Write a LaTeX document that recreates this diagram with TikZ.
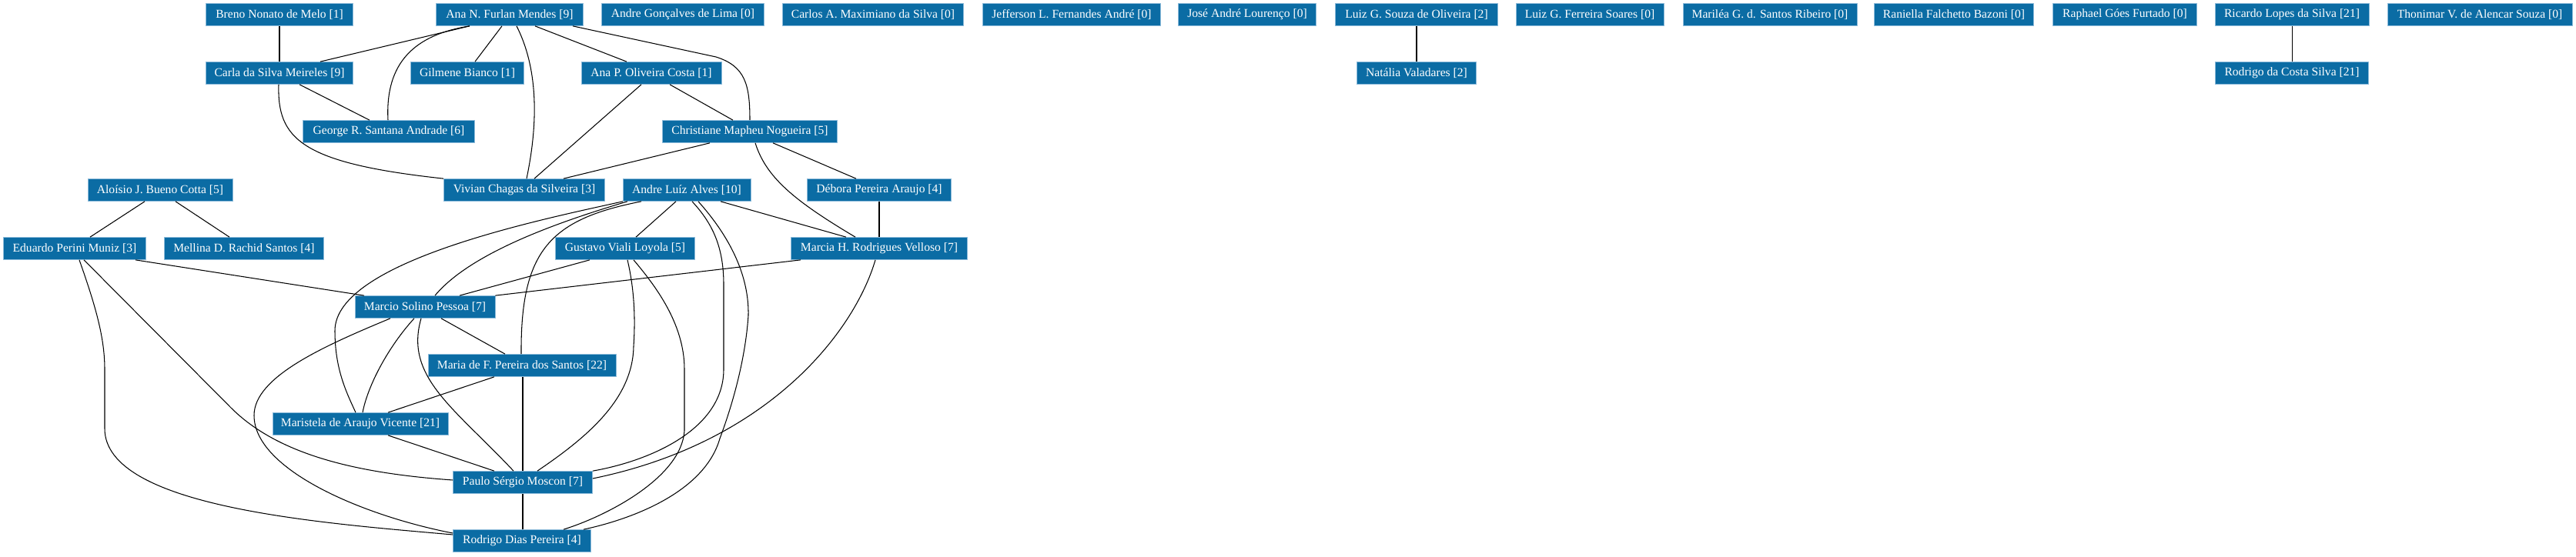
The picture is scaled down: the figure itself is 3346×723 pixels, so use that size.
\documentclass[tikz,border=0pt]{standalone}
\usepackage{fontspec}
\setmainfont{Liberation Serif}
\definecolor{nodeblue}{HTML}{0B6CA4}
\definecolor{nodeedge}{HTML}{8DBBDA}
\tikzset{
  pnode/.style={fill=nodeblue, draw=nodeedge, line width=0.7pt, text=white,
    inner sep=0pt, minimum height=29pt, font=\fontsize{15.6}{18}\selectfont},
  link/.style={draw=black, line width=1.05pt}
}
\begin{document}
\begin{tikzpicture}[x=1pt,y=-1pt]
\useasboundingbox[fill=white] (0,0) rectangle (3346,723);
% row 1
\node[pnode, minimum width=191pt] (breno) at (363,19) {Breno Nonato de Melo [1]};
\node[pnode, minimum width=191pt] (anaN) at (662,19) {Ana N. Furlan Mendes [9]};
\node[pnode, minimum width=211pt] (andreG) at (887,19) {Andre Gonçalves de Lima [0]};
\node[pnode, minimum width=235pt] (carlos) at (1134,19) {Carlos A. Maximiano da Silva [0]};
\node[pnode, minimum width=231pt] (jefferson) at (1392,19) {Jefferson L. Fernandes André [0]};
\node[pnode, minimum width=179pt] (jose) at (1620,19) {José André Lourenço [0]};
\node[pnode, minimum width=211pt] (luizS) at (1840,19) {Luiz G. Souza de Oliveira [2]};
\node[pnode, minimum width=192pt] (luizF) at (2065,19) {Luiz G. Ferreira Soares [0]};
\node[pnode, minimum width=226pt] (marilea) at (2299,19) {Mariléa G. d. Santos Ribeiro [0]};
\node[pnode, minimum width=207pt] (raniella) at (2538,19) {Raniella Falchetto Bazoni [0]};
\node[pnode, minimum width=187pt] (raphael) at (2760,19) {Raphael Góes Furtado [0]};
\node[pnode, minimum width=200pt] (ricardo) at (2977,19) {Ricardo Lopes da Silva [21]};
\node[pnode, minimum width=240pt] (thonimar) at (3221,19) {Thonimar V. de Alencar Souza [0]};
% row 2
\node[pnode, minimum width=191pt] (carla) at (363,95) {Carla da Silva Meireles [9]};
\node[pnode, minimum width=147pt] (gilmene) at (607,95) {Gilmene Bianco [1]};
\node[pnode, minimum width=182pt] (anaP) at (846,95) {Ana P. Oliveira Costa [1]};
\node[pnode, minimum width=155pt] (natalia) at (1840,95) {Natália Valadares [2]};
\node[pnode, minimum width=199pt] (rodrigoC) at (2977,95) {Rodrigo da Costa Silva [21]};
% row 3
\node[pnode, minimum width=223pt] (george) at (505,171) {George R. Santana Andrade [6]};
\node[pnode, minimum width=227pt] (christiane) at (974,171) {Christiane Mapheu Nogueira [5]};
% row 4
\node[pnode, minimum width=188pt] (aloisio) at (208,247) {Aloísio J. Bueno Cotta [5]};
\node[pnode, minimum width=209pt] (vivian) at (681,247) {Vivian Chagas da Silveira [3]};
\node[pnode, minimum width=166pt] (andreL) at (892,247) {Andre Luíz Alves [10]};
\node[pnode, minimum width=187pt] (debora) at (1142,247) {Débora Pereira Araujo [4]};
% row 5
\node[pnode, minimum width=185pt] (eduardo) at (97,323) {Eduardo Perini Muniz [3]};
\node[pnode, minimum width=207pt] (mellina) at (317,323) {Mellina D. Rachid Santos [4]};
\node[pnode, minimum width=181pt] (gustavo) at (812,323) {Gustavo Viali Loyola [5]};
\node[pnode, minimum width=229pt] (marcia) at (1142,323) {Marcia H. Rodrigues Velloso [7]};
% rows 6-10
\node[pnode, minimum width=182pt] (marcio) at (552,399) {Marcio Solino Pessoa [7]};
\node[pnode, minimum width=244pt] (maria) at (678,475) {Maria de F. Pereira dos Santos [22]};
\node[pnode, minimum width=228pt] (maristela) at (468,551) {Maristela de Araujo Vicente [21]};
\node[pnode, minimum width=181pt] (paulo) at (679,627) {Paulo Sérgio Moscon [7]};
\node[pnode, minimum width=179pt] (rodrigoD) at (678,703) {Rodrigo Dias Pereira [4]};

% straight edges
\draw[link] (breno.south) -- (carla.north);
\draw[link] (610,0 |- anaN.south) -- (416,0 |- carla.north);
\draw[link] (652,0 |- anaN.south) -- (617,0 |- gilmene.north);
\draw[link] (695,0 |- anaN.south) -- (814,0 |- anaP.north);
\draw[link] (389,0 |- carla.south) -- (480,0 |- george.north);
\draw[link] (833,0 |- anaP.south) -- (694,0 |- vivian.north);
\draw[link] (870,0 |- anaP.south) -- (952,0 |- christiane.north);
\draw[link] (922,0 |- christiane.south) -- (732,0 |- vivian.north);
\draw[link] (1004,0 |- christiane.south) -- (1112,0 |- debora.north);
\draw[link] (188,0 |- aloisio.south) -- (117,0 |- eduardo.north);
\draw[link] (228,0 |- aloisio.south) -- (298,0 |- mellina.north);
\draw[link] (878,0 |- andreL.south) -- (826,0 |- gustavo.north);
\draw[link] (936,0 |- andreL.south) -- (1099,0 |- marcia.north);
\draw[link] (debora.south) -- (marcia.north);
\draw[link] (176,0 |- eduardo.south) -- (473,0 |- marcio.north);
\draw[link] (766,0 |- gustavo.south) -- (597,0 |- marcio.north);
\draw[link] (1040,0 |- marcia.south) -- (marcio.north east);
\draw[link] (573,0 |- marcio.south) -- (656,0 |- maria.north);
\draw[link] (642,0 |- maria.south) -- (504,0 |- maristela.north);
\draw[link] (679,0 |- maria.south) -- (679,0 |- paulo.north);
\draw[link] (504,0 |- maristela.south) -- (642,0 |- paulo.north);
\draw[link] (679,0 |- paulo.south) -- (679,0 |- rodrigoD.north);
\draw[link] (luizS.south) -- (natalia.north);
\draw[link] (ricardo.south) -- (rodrigoC.north);

% curved edges
\draw[link] (610,0 |- anaN.south) .. controls (540,45) and (500,80) .. (504,0 |- george.north);
\draw[link] (671,0 |- anaN.south) .. controls (702,95) and (697,170) .. (684,0 |- vivian.north);
\draw[link] (744,0 |- anaN.south) -- (930,74) .. controls (968,86) and (974,110) .. (974,0 |- christiane.north);
\draw[link] (362,0 |- carla.south) .. controls (360,180) and (390,212) .. (vivian.north west);
\draw[link] (981,0 |- christiane.south) .. controls (995,230) and (1030,260) .. (1111,0 |- marcia.north);
\draw[link] (809,0 |- andreL.south) .. controls (700,286) and (435,340) .. (435,430)
   .. controls (435,480) and (450,510) .. (462,0 |- maristela.north);
\draw[link] (815,0 |- andreL.south) .. controls (720,290) and (610,330) .. (565,0 |- marcio.north);
\draw[link] (833,0 |- andreL.south) .. controls (715,285) and (676,325) .. (677,0 |- maria.north);
\draw[link] (899,0 |- andreL.south) .. controls (925,290) and (940,320) .. (940,370) -- (940,480)
   .. controls (940,560) and (840,600) .. (paulo.north east);
\draw[link] (907,0 |- andreL.south) .. controls (950,310) and (973,360) .. (972,410)
   .. controls (968,470) and (950,530) .. (935,570)
   .. controls (915,640) and (820,675) .. (758,0 |- rodrigoD.north);
\draw[link] (815,0 |- gustavo.south) .. controls (825,380) and (825,420) .. (823,450)
   .. controls (822,520) and (760,570) .. (698,0 |- paulo.north);
\draw[link] (823,0 |- gustavo.south) .. controls (850,370) and (889,420) .. (889,480) -- (889,560)
   .. controls (885,620) and (790,670) .. (732,0 |- rodrigoD.north);
\draw[link] (1137,0 |- marcia.south) .. controls (1110,430) and (1000,575) .. ([yshift=5pt]paulo.east);
\draw[link] (109,0 |- eduardo.south) -- (300,530) .. controls (360,590) and (460,615) .. ([yshift=3pt]paulo.west);
\draw[link] (103,0 |- eduardo.south) .. controls (125,400) and (136,440) .. (136,480) -- (136,557)
   .. controls (136,660) and (420,680) .. ([yshift=8pt]rodrigoD.west);
\draw[link] (507,0 |- marcio.south) .. controls (420,450) and (330,490) .. (330,540)
   .. controls (330,610) and (470,670) .. ([yshift=10pt]rodrigoD.west);
\draw[link] (538,0 |- marcio.south) .. controls (505,450) and (478,500) .. (471,0 |- maristela.north);
\draw[link] (547,0 |- marcio.south) .. controls (525,490) and (590,530) .. (667,0 |- paulo.north);
\end{tikzpicture}
\end{document}
